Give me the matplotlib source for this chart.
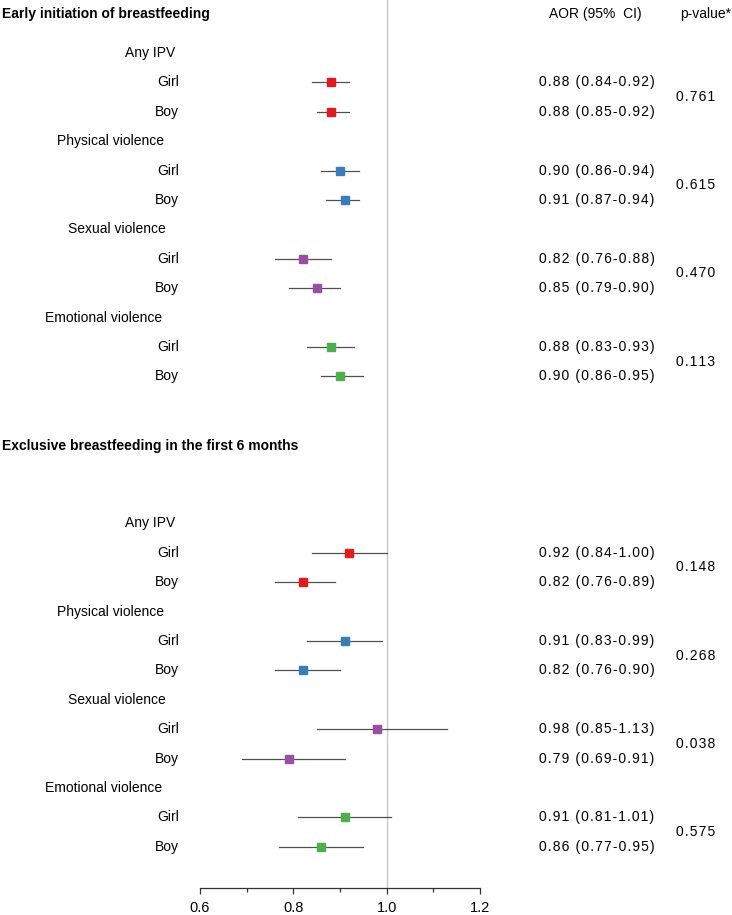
import numpy as np
import matplotlib
matplotlib.use('Agg')
import matplotlib.pyplot as plt
import matplotlib.transforms as mtransforms

plt.rcParams['font.family'] = ['Liberation Sans', 'DejaVu Sans']

# data
outcomes = ['Early initiation of breastfeeding', 'Exclusive breastfeeding in the first 6 months']
exposures = ['Any IPV', 'Physical violence', 'Sexual violence', 'Emotional violence']
sexes = ['Girl', 'Boy']

aor_early = [[0.88, 0.88], [0.90, 0.91], [0.82, 0.85], [0.88, 0.90]]
lo_early = [[0.84, 0.85], [0.86, 0.87], [0.76, 0.79], [0.83, 0.86]]
hi_early = [[0.92, 0.92], [0.94, 0.94], [0.88, 0.90], [0.93, 0.95]]
p_early = ['0.761', '0.615', '0.470', '0.113']

aor_excl = [[0.92, 0.82], [0.91, 0.82], [0.98, 0.79], [0.91, 0.86]]
lo_excl = [[0.84, 0.76], [0.83, 0.76], [0.85, 0.69], [0.81, 0.77]]
hi_excl = [[1.00, 0.89], [0.99, 0.90], [1.13, 0.91], [1.01, 0.95]]
p_excl = ['0.148', '0.268', '0.038', '0.575']

colors = ['#E41A1C', '#377EB8', '#984EA3', '#4DAF4A']

HS = '\u200a'  # hair space, mimics the letter spacing of the original


def spaced(s):
    return HS.join(s)


# layout (pixels -> figure)
W, H = 732, 915
fig = plt.figure(figsize=(W / 100, H / 100), dpi=100)
ax = fig.add_axes([200 / W, 27 / H, 280 / W, 888 / H])
ax.set_xlim(0.6, 1.2)
ax.set_ylim(28.4, -1.80)

trans = mtransforms.blended_transform_factory(fig.transFigure, ax.transData)
label_x = {'Any IPV': 125, 'Physical violence': 57, 'Sexual violence': 68, 'Emotional violence': 45}

ax.axvline(1.0, color='#c8c8c8', lw=1.0, zorder=0)

blocks = [(aor_early, lo_early, hi_early, p_early, 0),
          (aor_excl, lo_excl, hi_excl, p_excl, 16)]
title_rows = [-1.33, 13.38]

for k, (aor, lo, hi, pv, start) in enumerate(blocks):
    ax.text(2 / W, title_rows[k], outcomes[k], transform=trans, ha='left', va='center',
            fontsize=10, fontweight='bold')
    for i, expo in enumerate(exposures):
        r0 = start + i * 3
        ax.text(label_x[expo] / W, r0, expo, transform=trans, ha='left', va='center', fontsize=10)
        for j, sex in enumerate(sexes):
            r = r0 + 1 + j
            ax.text(179 / W, r, sex, transform=trans, ha='right', va='center', fontsize=10)
            ax.plot([lo[i][j], hi[i][j]], [r, r], color='#505050', lw=0.9, zorder=2, clip_on=False)
            ax.plot(aor[i][j], r, marker='s', ms=6.3, color=colors[i], mec=colors[i], zorder=3, clip_on=False)
            ax.text(597 / W, r, spaced('%.2f (%.2f-%.2f)' % (aor[i][j], lo[i][j], hi[i][j])),
                    transform=trans, ha='center', va='center', fontsize=10)
        ax.text(696 / W, r0 + 1.5, spaced(pv[i]), transform=trans, ha='center', va='center', fontsize=10)

ax.text(595 / W, title_rows[0], 'AOR (95%  CI)', transform=trans, ha='center', va='center', fontsize=10)
ax.text(706 / W, title_rows[0], 'p-value*', transform=trans, ha='center', va='center', fontsize=10)

for s in ['top', 'right', 'left']:
    ax.spines[s].set_visible(False)
ax.spines['bottom'].set_color('#333333')
ax.spines['bottom'].set_linewidth(0.9)
ax.set_yticks([])
ax.set_xticks([0.6, 0.8, 1.0, 1.2])
ax.set_xticklabels(['0.6', '0.8', '1.0', '1.2'])
ax.set_xticks([0.7, 0.9, 1.1], minor=True)
ax.tick_params(axis='x', which='major', length=4, width=0.9, color='#333333', labelsize=10.5, pad=5)
ax.tick_params(axis='x', which='minor', length=3, width=0.9, color='#333333')

fig.savefig('out.png', dpi=100)
